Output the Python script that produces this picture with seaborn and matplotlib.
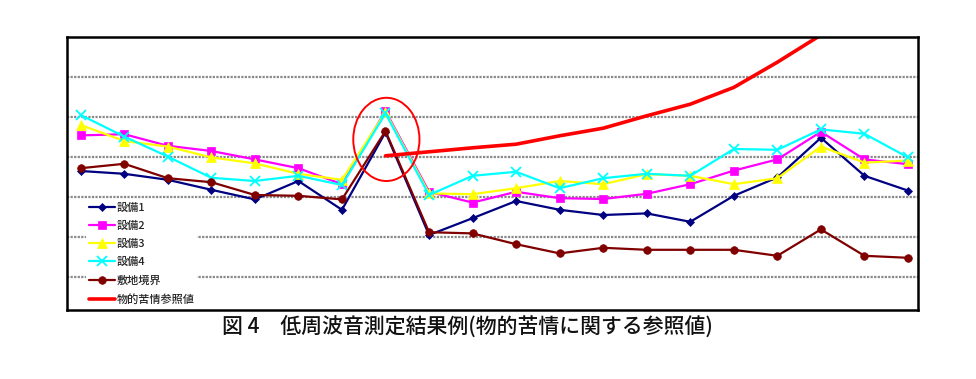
import numpy as np
import pandas as pd
import matplotlib
matplotlib.use("Agg")
import matplotlib.pyplot as plt
from matplotlib.patches import Ellipse
import seaborn as sns

sns.set_theme(style="white")
plt.rcParams['font.family'] = ['Noto Sans CJK JP', 'DejaVu Sans']

# ---- data (arbitrary dB-like units) ----
points = list(range(20))
labels = ["設備1", "設備2", "設備3", "設備4", "敷地境界", "物的苦情参照値"]
setsubi1 = [76.5, 75.8, 74.3, 71.8, 69.4, 74.0, 66.8, 86.2, 60.5, 64.7,
            69.0, 66.8, 65.5, 65.9, 63.8, 70.3, 74.9, 84.8, 75.3, 71.6]
setsubi2 = [85.4, 85.7, 82.8, 81.5, 79.4, 77.2, 73.2, 91.5, 71.3, 68.6,
            71.3, 69.7, 69.5, 70.8, 73.2, 76.6, 79.4, 86.3, 79.4, 78.2]
setsubi3 = [88.0, 84.0, 82.6, 79.9, 78.4, 75.8, 74.3, 91.2, 70.9, 70.7,
            72.2, 74.0, 73.2, 75.7, 75.3, 73.2, 74.7, 82.6, 78.6, 79.1]
setsubi4 = [90.5, 85.1, 80.1, 74.8, 74.0, 75.3, 73.0, 90.9, 70.5, 75.3,
            76.3, 72.2, 74.7, 75.8, 75.3, 82.0, 81.8, 86.9, 85.8, 79.9]
boundary = [77.2, 78.3, 74.7, 73.7, 70.5, 70.3, 69.4, 86.5, 61.2, 60.9,
            58.2, 55.9, 57.3, 56.8, 56.8, 56.8, 55.3, 61.9, 55.3, 54.8]
reference = [np.nan] * 7 + [80.3, 81.3, 82.3, 83.2, 85.3, 87.2, 90.3, 93.2,
                            97.4, 103.7, 110.5, 116.8, 123.0]
grid_values = [50, 60, 70, 80, 90, 100]
title = "図 4　低周波音測定結果例(物的苦情に関する参照値)"

series = [setsubi1, setsubi2, setsubi3, setsubi4, boundary, reference]
colors = ["#000080", "#FF00FF", "#FFFF00", "#00FFFF", "#800000", "#FF0000"]
markers = ["D", "s", "^", "x", "o", None]
msizes = [4.5, 5.5, 6.5, 6.5, 5.5, 0]
lws = [1.6, 1.6, 1.6, 1.6, 1.6, 2.6]

fig = plt.figure(figsize=(9.76, 3.79), dpi=100)
ax = fig.add_axes([67 / 976, 69 / 379, 851 / 976, 273 / 379])

for vals, lab, c, m, ms, lw in zip(series, labels, colors, markers, msizes, lws):
    df = pd.DataFrame({"x": points, "y": vals})
    kw = dict(marker=m, markersize=ms, markeredgecolor=c, markerfacecolor=c,
              markeredgewidth=1.3 if m == "x" else 0.5) if m else {}
    sns.lineplot(data=df, x="x", y="y", color=c, linewidth=lw, label=lab,
                 ax=ax, sort=False, **kw)

# red circle highlighting the peak
ax.add_patch(Ellipse((7.02, 84.4), width=1.52, height=20.8, fill=False,
                     edgecolor="#FF0000", linewidth=1.4, zorder=6))

ax.set_xlim(-0.315, 19.23)
ax.set_ylim(41.75, 110)
ax.set_yticks(grid_values)
ax.set_xticks([])
ax.set_yticklabels([])
ax.tick_params(left=False, bottom=False)
ax.set_xlabel("")
ax.set_ylabel("")
ax.yaxis.grid(True, color="#888888", linestyle=(0, (1, 0.6)), linewidth=1.6)
ax.set_axisbelow(True)
for s in ax.spines.values():
    s.set_color("black")
    s.set_linewidth(1.8)

leg = ax.legend(loc="lower left", bbox_to_anchor=(0.022, 0.008), frameon=True,
                facecolor="white", edgecolor="none", framealpha=1,
                fontsize=8, handlelength=2.3, handletextpad=0.15,
                labelspacing=0.72, borderpad=0.3, borderaxespad=0,
                fancybox=False)
leg.set_zorder(10)
for t in leg.get_texts():
    t.set_fontweight("medium")

fig.text(467 / 976, 1 - 328 / 379, title, ha="center", va="center",
         fontsize=15, fontweight="medium", color="#111111")

fig.savefig("out.png", dpi=100, facecolor="white")
